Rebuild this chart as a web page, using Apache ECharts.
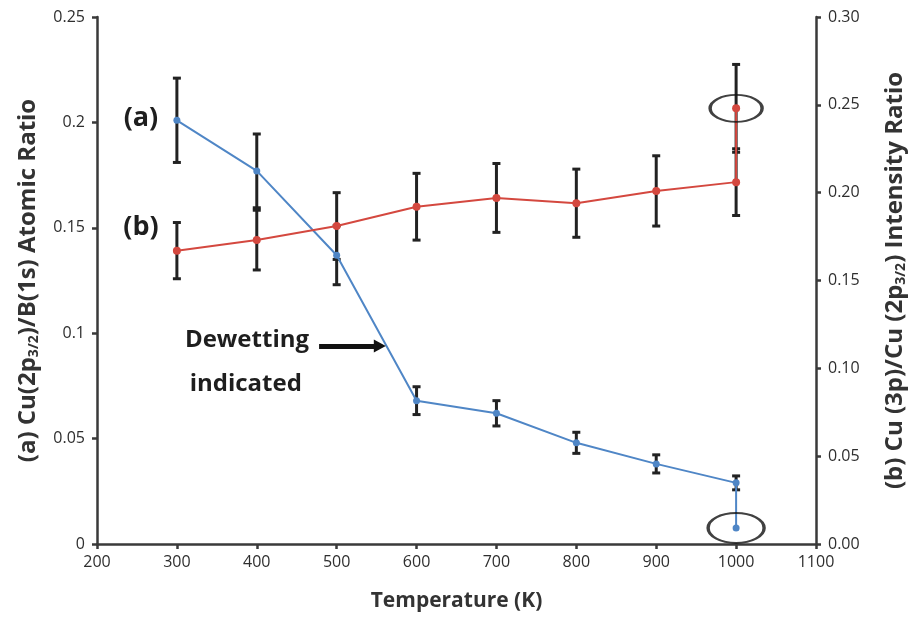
<!DOCTYPE html>
<html>
<head>
<meta charset="utf-8">
<script src="https://cdn.jsdelivr.net/npm/echarts@6/dist/echarts.min.js"></script>
<style>
  html, body { margin: 0; padding: 0; background: #fff; }
  #chart { width: 916px; height: 617px; }
</style>
</head>
<body>
<div id="chart"></div>
<script>
// Annealing temperatures (K)
const temperatures = [300, 400, 500, 600, 700, 800, 900, 1000];

// (a) Cu(2p3/2)/B(1s) atomic ratio and its uncertainty (left axis)
const ratioA = [0.201, 0.177, 0.137, 0.068, 0.062, 0.048, 0.038, 0.029];
const errorA = [0.020, 0.0175, 0.014, 0.0066, 0.006, 0.005, 0.0043, 0.0033];
// Extra 1000 K measurement of (a)
const extraA = [1000, 0.0076];

// (b) Cu(3p)/Cu(2p3/2) intensity ratio and its uncertainty (right axis)
const ratioB = [0.167, 0.173, 0.181, 0.192, 0.197, 0.194, 0.201, 0.206];
const errorB = [0.016, 0.017, 0.019, 0.019, 0.0196, 0.0194, 0.020, 0.019];
// Extra 1000 K measurement of (b): temperature, value, uncertainty
const extraB = [1000, 0.248, 0.025];

// Tick settings
const xTicks = { min: 200, max: 1100, step: 100 };
const leftTicks = { min: 0, max: 0.25, step: 0.05 };
const rightTicks = { min: 0, max: 0.30, step: 0.05 };

const FONT = "'Open Sans', 'Liberation Sans', sans-serif";
const INK = '#222';
const BLUE = '#4f86c6';
const RED = '#d4483f';

const lineA = temperatures.map((t, i) => [t, ratioA[i]]).concat([extraA]);
const lineB = temperatures.map((t, i) => [t, ratioB[i]]).concat([[extraB[0], extraB[1]]]);
const barsA = temperatures.map((t, i) => [t, ratioA[i] - errorA[i], ratioA[i] + errorA[i]]);
const barsB = temperatures.map((t, i) => [t, ratioB[i] - errorB[i], ratioB[i] + errorB[i]])
  .concat([[extraB[0], extraB[1] - extraB[2], extraB[1] + extraB[2]]]);

// Vertical error bar with caps at both ends
function errorBarItem(params, api) {
  const x = api.value(0);
  const lo = api.coord([x, api.value(1)]);
  const hi = api.coord([x, api.value(2)]);
  const cap = 4;
  const style = { stroke: INK, lineWidth: 3 };
  return {
    type: 'group',
    children: [
      { type: 'line', shape: { x1: lo[0], y1: lo[1], x2: hi[0], y2: hi[1] }, style },
      { type: 'line', shape: { x1: lo[0] - cap, y1: lo[1], x2: lo[0] + cap, y2: lo[1] }, style },
      { type: 'line', shape: { x1: hi[0] - cap, y1: hi[1], x2: hi[0] + cap, y2: hi[1] }, style }
    ]
  };
}

const chart = echarts.init(document.getElementById('chart'), null, { renderer: 'canvas' });

const axisLineStyle = { color: '#3a3a3a', width: 2.5 };
const tickLabel = { fontFamily: FONT, fontSize: 16, color: '#2e2e2e' };
const nameStyle = {
  fontFamily: FONT, fontSize: 24, fontWeight: 'bold', color: '#333',
  rich: { sub: { fontFamily: FONT, fontSize: 14, fontWeight: 'bold', color: '#333', padding: [12, 0, 0, 0] } }
};

chart.setOption({
  animation: false,
  backgroundColor: '#fff',
  grid: { left: 97, right: 98, top: 17, bottom: 73, containLabel: false },
  xAxis: {
    type: 'value', min: xTicks.min, max: xTicks.max, interval: xTicks.step,
    name: 'Temperature (K)', nameLocation: 'middle', nameGap: 47,
    nameTextStyle: { fontFamily: FONT, fontSize: 21, fontWeight: 'bold', color: '#333' },
    axisLine: { show: true, onZero: false, lineStyle: axisLineStyle },
    axisTick: { show: true, inside: false, length: 5, lineStyle: axisLineStyle },
    axisLabel: Object.assign({ margin: 10, formatter: v => String(v) }, tickLabel),
    splitLine: { show: false }
  },
  yAxis: [
    {
      type: 'value', position: 'left', min: leftTicks.min, max: leftTicks.max, interval: leftTicks.step,
      name: '(a) Cu(2p{sub|3/2})/B(1s) Atomic Ratio', nameLocation: 'middle', nameGap: 56, nameRotate: 90,
      nameTextStyle: nameStyle,
      axisLine: { show: true, onZero: false, lineStyle: axisLineStyle },
      axisTick: { show: true, length: 5, lineStyle: axisLineStyle },
      axisLabel: Object.assign({ margin: 12, formatter: v => String(+v.toFixed(2)) }, tickLabel),
      splitLine: { show: false }
    },
    {
      type: 'value', position: 'right', min: rightTicks.min, max: rightTicks.max, interval: rightTicks.step,
      name: '(b) Cu (3p)/Cu (2p{sub|3/2}) Intensity Ratio', nameLocation: 'middle', nameGap: 66, nameRotate: 90,
      nameTextStyle: nameStyle,
      axisLine: { show: true, onZero: false, lineStyle: axisLineStyle },
      axisTick: { show: true, length: 5, lineStyle: axisLineStyle },
      axisLabel: Object.assign({ margin: 12, formatter: v => v.toFixed(2) }, tickLabel),
      splitLine: { show: false }
    }
  ],
  series: [
    {
      type: 'custom', name: 'err-a', xAxisIndex: 0, yAxisIndex: 0, z: 1,
      renderItem: errorBarItem, data: barsA, encode: { x: 0, y: [1, 2] }
    },
    {
      type: 'custom', name: 'err-b', xAxisIndex: 0, yAxisIndex: 1, z: 1,
      renderItem: errorBarItem, data: barsB, encode: { x: 0, y: [1, 2] }
    },
    {
      type: 'line', name: '(a)', yAxisIndex: 0, z: 3, data: lineA,
      symbol: 'circle', symbolSize: 7, showSymbol: true,
      lineStyle: { color: BLUE, width: 2 }, itemStyle: { color: BLUE }
    },
    {
      type: 'line', name: '(b)', yAxisIndex: 1, z: 3, data: lineB,
      symbol: 'circle', symbolSize: 8, showSymbol: true,
      lineStyle: { color: RED, width: 2 }, itemStyle: { color: RED }
    },
    // Ellipses ringing the extra 1000 K measurements
    {
      type: 'scatter', yAxisIndex: 0, z: 4, data: [[extraA[0], extraA[1]]],
      symbol: 'circle', symbolSize: [56, 30], silent: true,
      itemStyle: { color: 'rgba(0,0,0,0)', borderColor: '#111', borderWidth: 2.5 }
    },
    {
      type: 'scatter', yAxisIndex: 1, z: 4, data: [[extraB[0], extraB[1]]],
      symbol: 'circle', symbolSize: [52, 27], silent: true,
      itemStyle: { color: 'rgba(0,0,0,0)', borderColor: '#111', borderWidth: 2.5 }
    },
    // Arrow pointing at the dewetting drop
    {
      type: 'line', yAxisIndex: 0, z: 4, data: [], silent: true,
      markLine: {
        silent: true, animation: false,
        symbol: ['none', 'triangle'], symbolSize: [13, 12],
        label: { show: false },
        lineStyle: { color: '#111', width: 5, type: 'solid' },
        data: [[{ coord: [478, 0.0939] }, { coord: [554, 0.0939] }]]
      }
    }
  ]
});

// Text annotations placed in data coordinates
const notes = [
  { text: '(a)', at: [255, 0.202], align: 'center', size: 27 },
  { text: '(b)', at: [255, 0.150], align: 'center', size: 27 },
  { text: 'Dewetting', at: [310, 0.0968], align: 'left', size: 24 },
  { text: 'indicated', at: [316, 0.0760], align: 'left', size: 24 }
];
chart.setOption({
  graphic: notes.map(n => {
    const p = chart.convertToPixel({ xAxisIndex: 0, yAxisIndex: 0 }, n.at);
    return {
      type: 'text', x: p[0], y: p[1], z: 10,
      style: {
        text: n.text, fontFamily: FONT, fontSize: n.size, fontWeight: 'bold', fill: '#1e1e1e',
        align: n.align, verticalAlign: 'middle'
      }
    };
  })
});
</script>
</body>
</html>
